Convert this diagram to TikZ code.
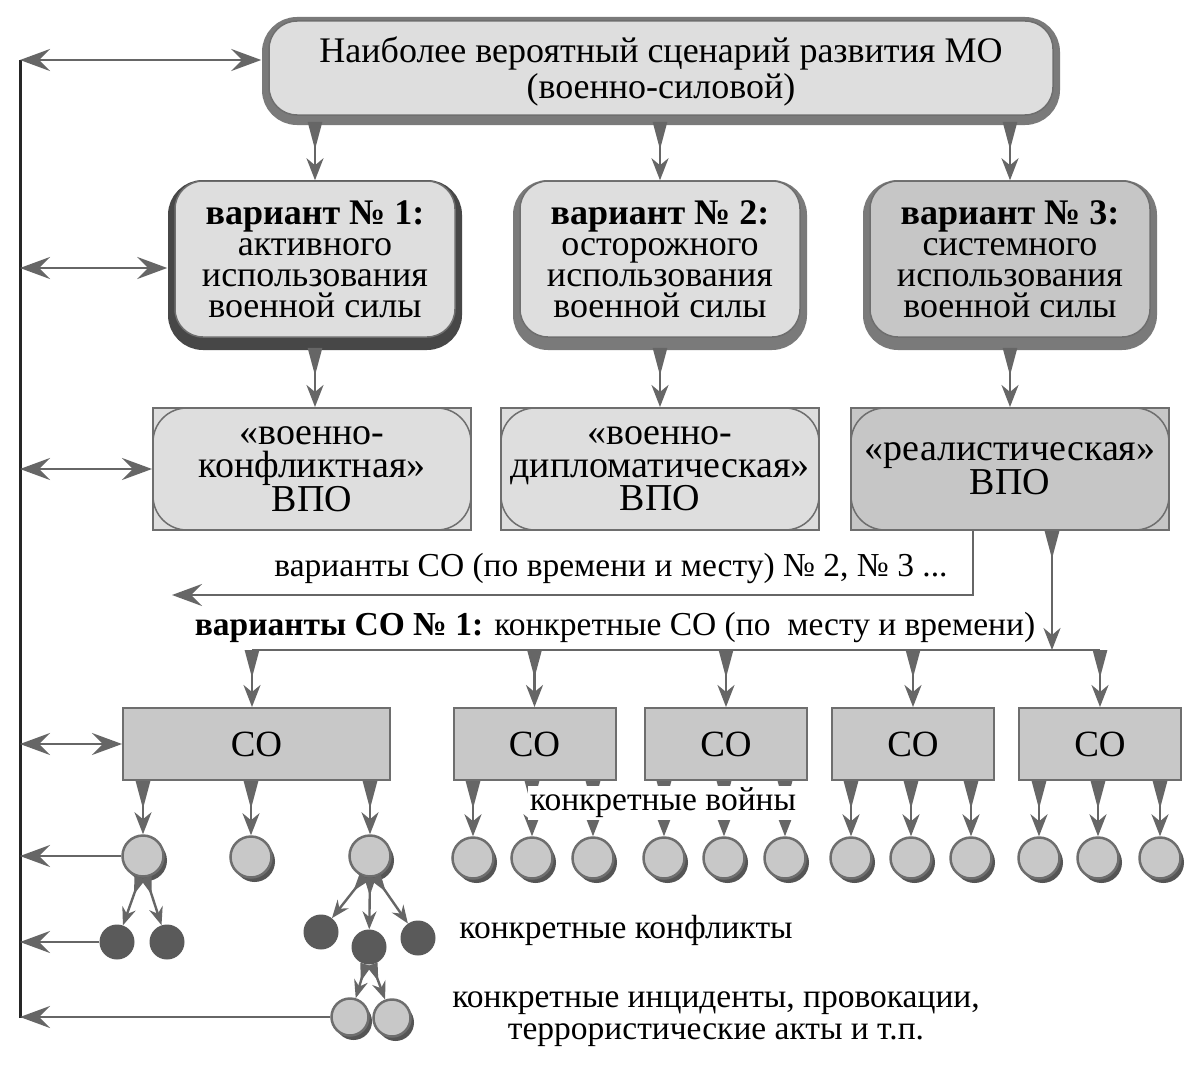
\documentclass[tikz,border=0pt]{standalone}
\usepackage{fontspec}
\setmainfont{Liberation Serif}
\usetikzlibrary{arrows.meta}
\definecolor{facel}{HTML}{DEDEDE}
\definecolor{faced}{HTML}{C6C6C6}
\definecolor{cofill}{HTML}{C8C8C8}
\definecolor{bord}{HTML}{6E6E6E}
\definecolor{arr}{HTML}{666666}
\definecolor{shl}{HTML}{7A7A7A}
\definecolor{shd}{HTML}{474747}
\definecolor{cfill}{HTML}{C8C8C8}
\definecolor{dark}{HTML}{5A5A5A}
\definecolor{csh}{HTML}{555555}
\newcommand\myvfont{\fontsize{36}{31}\selectfont}
\newcommand\mypfont{\fontsize{38}{33}\selectfont}
\newcommand\mytfont{\fontsize{33.5}{32}\selectfont}
\begin{document}
\begin{tikzpicture}[x=1pt,y=-1pt,
  face/.style={rounded corners=28pt, draw=bord, line width=1.5pt, align=center, inner sep=0pt},
  raised/.style={preaction={draw=#1, line width=14pt, transform canvas={yshift=-6pt}}},
  vbox/.style={face, minimum width=280pt, minimum height=156pt, font=\myvfont},
  vpo/.style={draw=bord, line width=2pt, fill=facel, minimum width=318pt, minimum height=122pt, align=center, inner sep=0pt, font=\mypfont},
  innerround/.style={draw=bord, line width=1.5pt, rounded corners=34pt},
  co/.style={draw=bord, line width=2pt, fill=cofill, minimum height=72pt, inner sep=0pt, font=\fontsize{37}{37}\selectfont},
  taper/.style={draw=arr, line width=2.8pt, arrows={Triangle[reversed,length=28pt,width=14pt]-Stealth[length=22pt,width=17pt,inset=7pt]}},
  taps/.style={draw=arr, line width=2.4pt, arrows={Triangle[reversed,length=18pt,width=11pt]-Stealth[length=18pt,width=14pt,inset=6pt]}},
  dbl/.style={draw=arr, line width=2.8pt, arrows={Stealth[length=30pt,width=22pt,inset=11pt]-Stealth[length=30pt,width=22pt,inset=11pt]}},
  larr/.style={draw=arr, line width=2.8pt, -{Stealth[length=30pt,width=22pt,inset=11pt]}},
  plain/.style={draw=arr, line width=2.8pt},
  lc/.style={circle, draw=bord, line width=2.5pt, fill=cfill, minimum size=41pt, inner sep=0pt, preaction={fill=csh, transform canvas={shift={(3.5pt,-4.5pt)}}}},
  sc/.style={lc, minimum size=37pt},
  dc/.style={circle, fill=dark, minimum size=35pt, inner sep=0pt},
  txt/.style={inner sep=1pt, font=\mytfont, align=center}
]
\useasboundingbox[fill=white] (0,0) rectangle (1200,1065);

\coordinate (vtop) at (20,60);
\coordinate (vbot) at (20,1018);
\draw[line width=3pt, black!85] (vtop) -- (vbot);

% top box
\node[face, preaction={draw=shl, line width=14pt, transform canvas={yshift=-3pt}}, fill=facel, minimum width=784pt, minimum height=94pt, font=\fontsize{36}{36}\selectfont] (top) at (661,68) {\rule{0pt}{32pt}Наиболее вероятный сценарий развития МО\\(военно-силовой)};

% variant boxes
\node[vbox, raised=shd, fill=facel] (v1) at (315,259) {\textbf{вариант № 1:}\\активного\\использования\\военной силы};
\node[vbox, raised=shl, fill=facel] (v2) at (660,259) {\textbf{вариант № 2:}\\осторожного\\использования\\военной силы};
\node[vbox, raised=shl, fill=faced] (v3) at (1010,259) {\textbf{вариант № 3:}\\системного\\использования\\военной силы};

\draw[taper, shorten <=6pt] (top.south -| v1) -- (v1.north);
\draw[taper, shorten <=6pt] (top.south -| v2) -- (v2.north);
\draw[taper, shorten <=6pt] (top.south -| v3) -- (v3.north);

% VPO boxes
\node[vpo] (p1) at (312,469) {«военно-\\конфликтная»\\ВПО};
\node[vpo] (p2) at (660,469) {«военно-\\дипломатическая»\\ВПО};
\node[vpo, fill=faced] (p3) at (1010,469) {«реалистическая»\\ВПО};
\foreach \n in {p1,p2,p3}
  \draw[innerround] ([shift={(1pt,-1pt)}]\n.north west) rectangle ([shift={(-1pt,1pt)}]\n.south east);

\draw[taper, shorten <=10pt] (v1.south) -- (v1.south |- p1.north);
\draw[taper, shorten <=10pt] (v2.south) -- (v2.south |- p2.north);
\draw[taper, shorten <=10pt] (v3.south) -- (v3.south |- p3.north);

% branch to other variants
\coordinate (br) at (973,595);
\coordinate (brend) at (172,595);
\draw[plain, -{Stealth[length=30pt,width=22pt,inset=11pt]}] (p3.south -| br) -- (br) -- (brend);
\node[txt] (t1) at (611,568) {варианты СО (по времени и месту) № 2, № 3 ...};

\coordinate (hj) at (1052,650);
\draw[taper] (p3.south -| hj) -- (hj);
\node[txt] (t2) at (615,627) {\textbf{варианты СО № 1:} конкретные СО (по\ \ месту и времени)};

\coordinate (hl) at (252,650);
\coordinate (hr) at (1100,650);
\draw[plain] (hl) -- (hr);

% CO boxes
\node[co, minimum width=267pt] (co1) at (256.5,744) {СО};
\node[co, minimum width=162pt] (co2) at (534.5,744) {СО};
\node[co, minimum width=162pt] (co3) at (726,744) {СО};
\node[co, minimum width=162pt] (co4) at (913,744) {СО};
\node[co, minimum width=162pt] (co5) at (1100,744) {СО};

\draw[taper] (hl) -- (hl |- co1.north);
\foreach \n in {co2,co3,co4,co5}
  \draw[taper] (\n.north |- hl) -- (\n.north);

% circles level 1
\node[lc] (c11) at (143,856) {};
\node[lc] (c12) at (251,857) {};
\node[lc] (c13) at (370,856) {};
\node[lc] (c21) at (473,858) {};
\node[lc] (c22) at (532,858) {};
\node[lc] (c23) at (593,858) {};
\node[lc] (c31) at (664,858) {};
\node[lc] (c32) at (724,858) {};
\node[lc] (c33) at (785,858) {};
\node[lc] (c41) at (851,858) {};
\node[lc] (c42) at (911,858) {};
\node[lc] (c43) at (971,858) {};
\node[lc] (c51) at (1039,858) {};
\node[lc] (c52) at (1098,858) {};
\node[lc] (c53) at (1160,858) {};

\foreach \c in {c11,c12,c13} \draw[taper] (\c |- co1.south) -- (\c);
\foreach \c in {c21,c22,c23} \draw[taper] (\c |- co2.south) -- (\c);
\foreach \c in {c31,c32,c33} \draw[taper] (\c |- co3.south) -- (\c);
\foreach \c in {c41,c42,c43} \draw[taper] (\c |- co4.south) -- (\c);
\foreach \c in {c51,c52,c53} \draw[taper] (\c |- co5.south) -- (\c);

\node[txt, fill=white, inner sep=2pt] (t3) at (663,803) {конкретные войны};

% conflicts
\node[dc] (d1) at (117,942) {};
\node[dc] (d2) at (167,942) {};
\node[dc] (d3) at (321,932) {};
\node[dc] (d4) at (369,947) {};
\node[dc] (d5) at (418,938) {};
\draw[taps] (c11.262) -- (d1);
\draw[taps] (c11.278) -- (d2);
\draw[taps] (c13.255) -- (d3);
\draw[taps] (c13.270) -- (d4);
\draw[taps] (c13.285) -- (d5);

% incidents
\node[sc] (e1) at (350,1017) {};
\node[sc] (e2) at (392,1018) {};
\draw[taps] (d4.260) -- (e1);
\draw[taps] (d4.280) -- (e2);

\node[txt] (t4) at (626,930) {конкретные конфликты};
\node[txt] (t5) at (716,1019) {конкретные инциденты, провокации,\\террористические акты и т.п.};

% left feedback arrows
\draw[dbl, shorten >=7pt] (vtop) -- (vtop -| top.west);
\draw[dbl, shorten >=7pt] ([yshift=-9pt]v1.west -| vtop) -- ([yshift=-9pt]v1.west);
\draw[dbl] (p1.west -| vtop) -- (p1.west);
\draw[dbl] (co1.west -| vtop) -- (co1.west);
\draw[larr] (c11.west) -- (c11.west -| vtop);
\draw[larr] (d1.west) -- (d1.west -| vtop);
\draw[larr] (e1.west) -- (e1.west -| vtop);
\end{tikzpicture}
\end{document}
